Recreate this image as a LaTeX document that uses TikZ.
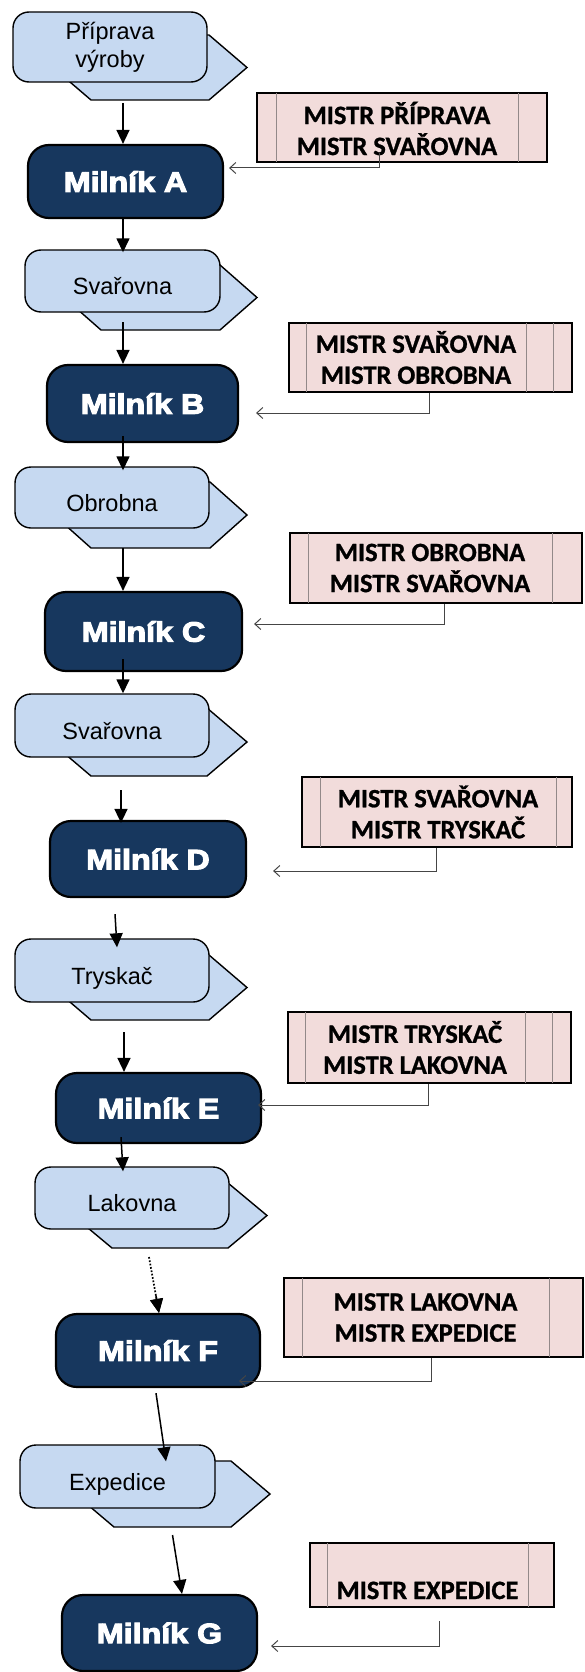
\documentclass[tikz,border=0pt]{standalone}
\usepackage{fontspec}
\setmainfont{Liberation Sans}
\newfontfamily\mistrfont{Carlito}[BoldFeatures={FakeBold=1}]
\newfontfamily\milfont{Liberation Sans}[BoldFeatures={FakeBold=4,FakeStretch=1.15}]
\usetikzlibrary{arrows.meta,calc}
\definecolor{deptblue}{HTML}{C6D9F1}
\definecolor{milnavy}{HTML}{17375E}
\definecolor{mistrpink}{HTML}{F2DCDB}
\definecolor{mistrline}{HTML}{938989}
\definecolor{linkgray}{HTML}{454545}

\tikzset{
  plate/.style={draw=black, line width=1.4pt, fill=deptblue, line join=miter},
  dept/.style={draw=black, line width=1.4pt, fill=deptblue, rounded corners=16pt,
    inner sep=0pt, align=center, font=\fontsize{23.5}{28}\selectfont},
  single/.style={text height=27pt, text depth=0pt},
  mil/.style={draw=black, line width=2.2pt, fill=milnavy, rounded corners=21pt,
    inner sep=0pt, text=white, font=\milfont\bfseries\fontsize{28}{32}\selectfont},
  mistr/.style={draw=black, line width=2.5pt, fill=mistrpink, inner sep=0pt},
  mistrtext/.style={inner sep=0pt, align=center,
    font=\mistrfont\bfseries\fontsize{26.5}{31}\selectfont},
  divider/.style={draw=mistrline, line width=1pt},
  flowline/.style={draw=black, line width=1.5pt},
  flow/.style={flowline, -{Triangle[length=14pt,width=13pt]}},
  dotline/.style={flowline, line width=1.7pt, dash pattern=on 1.7pt off 1.7pt},
  link/.style={draw=linkgray, line width=1pt, -{Straight Barb[length=6pt,width=11pt]}}
}

% hexagonal back plate behind each department box; #1 names its bottom centre
\newcommand\backplate[6]{%
  \filldraw[plate] (#2,#4) -- (#3,#4) -- ({#3+#6},{(#4+#5)/2}) -- (#3,#5)
    -- (#2,#5) -- ({#2-#6},{(#4+#5)/2}) -- cycle;
  \coordinate (#1) at ({(#2+#3)/2},#5);}

\begin{document}
\begin{tikzpicture}[x=1pt,y=-1pt]
\useasboundingbox (0,0) rectangle (584,1672);

% back plates
\backplate{bk1}{91}{209}{35}{100}{38}
\backplate{bk2}{101}{220}{265}{330}{37}
\backplate{bk3}{91}{210}{482}{548}{37}
\backplate{bk4}{91}{207}{708}{776}{40}
\backplate{bk5}{91}{209}{955}{1020}{38}
\backplate{bk6}{112}{228}{1183}{1248}{39}
\backplate{bk7}{114}{231}{1461}{1527}{39}

% department boxes
\node[dept, minimum width=194pt, minimum height=70pt] (F1) at (110,47) {Příprava\\výroby};
\node[dept, single, minimum width=195pt, minimum height=62pt] (F2) at (122.5,281) {Svařovna};
\node[dept, single, minimum width=194pt, minimum height=61pt] (F3) at (112,497.5) {Obrobna};
\node[dept, single, minimum width=194pt, minimum height=63pt] (F4) at (112,725.5) {Svařovna};
\node[dept, single, minimum width=194pt, minimum height=63pt] (F5) at (112,970.5) {Tryskač};
\node[dept, single, minimum width=194pt, minimum height=62pt] (F6) at (132,1198) {Lakovna};
\node[dept, single, minimum width=195pt, minimum height=63pt] (F7) at (117.5,1476.5) {Expedice};

% milestones
\node[mil, minimum width=195pt, minimum height=73pt] (mA) at (125.5,181.5) {Milník A};
\node[mil, minimum width=191pt, minimum height=77pt] (mB) at (142.5,403.5) {Milník B};
\node[mil, minimum width=197pt, minimum height=79pt] (mC) at (143.5,631.5) {Milník C};
\node[mil, minimum width=196pt, minimum height=76pt] (mD) at (148,859) {Milník D};
\node[mil, minimum width=205pt, minimum height=70pt] (mE) at (158.5,1108) {Milník E};
\node[mil, minimum width=204pt, minimum height=73pt] (mF) at (158,1350.5) {Milník F};
\node[mil, minimum width=195pt, minimum height=76pt] (mG) at (159.5,1633) {Milník G};

% foreman boxes
\node[mistr, minimum width=290pt, minimum height=69pt] (mistA) at (402,127.5) {};
\draw[divider] (276,93) -- (276,162) (518,93) -- (518,162);
\node[mistrtext] (tA) at (397,128.5) {MISTR PŘÍPRAVA\\MISTR SVAŘOVNA};

\node[mistr, minimum width=283pt, minimum height=69pt] (mistB) at (430.5,357.5) {};
\draw[divider] (306,323) -- (306,392) (526,323) -- (526,392) (553,323) -- (553,392);
\node[mistrtext] (tB) at (416,357.5) {MISTR SVAŘOVNA\\MISTR OBROBNA};

\node[mistr, minimum width=292pt, minimum height=70pt] (mistC) at (436,568) {};
\draw[divider] (308,533) -- (308,603) (552,533) -- (552,603);
\node[mistrtext] (tC) at (430,568) {MISTR OBROBNA\\MISTR SVAŘOVNA};

\node[mistr, minimum width=270pt, minimum height=70pt] (mistD) at (437,812) {};
\draw[divider] (320,777) -- (320,847) (556,777) -- (556,847);
\node[mistrtext] (tD) at (438,812) {MISTR SVAŘOVNA\\MISTR TRYSKAČ};

\node[mistr, minimum width=283pt, minimum height=71pt] (mistE) at (429.5,1047.5) {};
\draw[divider] (305,1012) -- (305,1083) (525,1012) -- (525,1083) (552,1012) -- (552,1083);
\node[mistrtext] (tE) at (415,1047.5) {MISTR TRYSKAČ\\MISTR LAKOVNA};

\node[mistr, minimum width=299pt, minimum height=79pt] (mistF) at (433.5,1317.5) {};
\draw[divider] (302,1278) -- (302,1357) (549,1278) -- (549,1357);
\node[mistrtext] (tF) at (425.5,1317.5) {MISTR LAKOVNA\\MISTR EXPEDICE};

\node[mistr, minimum width=244pt, minimum height=64pt] (mistG) at (432,1575) {};
\draw[divider] (327,1543) -- (327,1607) (528,1543) -- (528,1607);
\node[mistrtext, anchor=base] (tG) at (427.5,1599) {MISTR EXPEDICE};

% process flow
\draw[flow] ([xshift=-27pt,yshift=-3pt]bk1) -- ([xshift=-2.5pt]mA.north);
\draw[flow] ([xshift=-2.5pt]mA.south) -- ([xshift=0.5pt,yshift=-3pt]F2.north);
\draw[flow] ([xshift=-37.5pt,yshift=8pt]bk2) -- ([xshift=-19.5pt]mB.north);
\draw[flow] ([xshift=-19.5pt,yshift=7pt]mB.south) -- ([xshift=11pt,yshift=-4pt]F3.north);
\draw[flow] ([xshift=-27.5pt]bk3) -- ([xshift=-20.5pt]mC.north);
\draw[flow] ([xshift=-20.5pt,yshift=13pt]mC.south) -- ([xshift=11pt]F4.north);
\draw[flow] ([xshift=-28pt,yshift=-14pt]bk4) -- ([xshift=-27pt,yshift=-3pt]mD.north);
\draw[flow] ([xshift=-33pt,yshift=-16pt]mD.south) -- ([xshift=5pt,yshift=-9pt]F5.north);
\draw[flow] ([xshift=-26pt,yshift=-12pt]bk5) -- ([xshift=-34.5pt]mE.north);
\draw[flow] ([xshift=-37.5pt,yshift=7pt]mE.south) -- ([xshift=-9pt,yshift=-5pt]F6.north);
% dotted hand-over to milestone F, with a solid filled head
\coordinate (dotS) at ([xshift=-21pt,yshift=-9pt]bk6);
\coordinate (dotE) at ([xshift=1pt]mF.north);
\coordinate (dotB) at ($(dotE)!14pt!(dotS)$);
\draw[dotline] (dotS) -- (dotB);
\draw[flow] ($(dotE)!18pt!(dotS)$) -- (dotE);
\fill[black] (dotE) -- ($(dotB)!6.5pt!90:(dotE)$) -- ($(dotB)!6.5pt!-90:(dotE)$) -- cycle;
\draw[flow] ([xshift=-2pt,yshift=-5pt]mF.south) -- ([xshift=48.5pt,yshift=-17pt]F7.north);
\draw[flow] ([yshift=-8pt]bk7) -- ([xshift=22.5pt]mG.north);

% responsibility links
\draw[link] ([xshift=-23pt,yshift=10pt]mistA.south) |- ([xshift=5pt,yshift=13.5pt]mA.east);
\draw[link] ([xshift=-1.5pt]mistB.south) |- ([xshift=17pt,yshift=-9.5pt]mB.east);
\draw[link] ([xshift=8pt]mistC.south) |- ([xshift=11pt,yshift=7.5pt]mC.east);
\draw[link] ([xshift=-1pt]mistD.south) |- ([xshift=26pt,yshift=-12pt]mD.east);
\draw[link] ([xshift=-1.5pt]mistE.south) |- ([xshift=-4pt,yshift=3pt]mE.east);
\draw[link] ([xshift=-2.5pt]mistF.south) |- ([xshift=-22pt,yshift=-30.5pt]mF.east);
\draw[link] ([xshift=7pt,yshift=-13pt]mistG.south) |- ([xshift=13pt,yshift=-13pt]mG.east);
\end{tikzpicture}
\end{document}
